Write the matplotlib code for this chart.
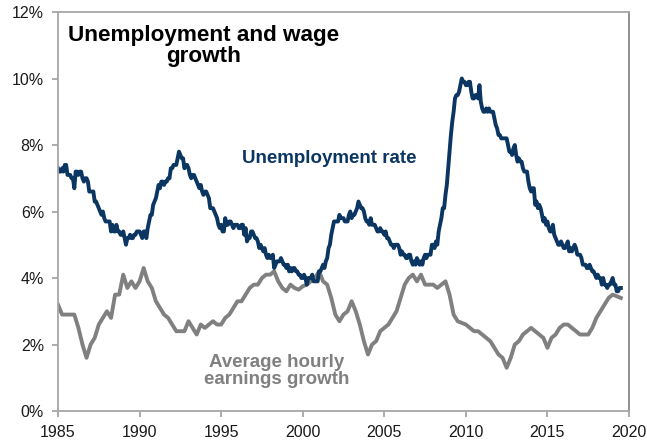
import numpy as np
import matplotlib
matplotlib.use("Agg")
import matplotlib.pyplot as plt
from matplotlib.ticker import FuncFormatter

plt.rcParams['font.family'] = ['Liberation Sans', 'DejaVu Sans']

# monthly unemployment rate (%), Jan 1985 onwards
unemp_by_year = {
    1985: [7.3, 7.2, 7.2, 7.3, 7.2, 7.4, 7.4, 7.1, 7.1, 7.1, 7.0, 7.0],
    1986: [6.7, 7.2, 7.2, 7.1, 7.2, 7.2, 7.0, 6.9, 7.0, 7.0, 6.9, 6.6],
    1987: [6.6, 6.6, 6.6, 6.3, 6.3, 6.2, 6.1, 6.0, 5.9, 6.0, 5.8, 5.7],
    1988: [5.7, 5.7, 5.7, 5.4, 5.6, 5.4, 5.4, 5.6, 5.4, 5.4, 5.3, 5.3],
    1989: [5.4, 5.2, 5.0, 5.2, 5.2, 5.3, 5.2, 5.2, 5.3, 5.3, 5.4, 5.4],
    1990: [5.4, 5.3, 5.2, 5.4, 5.4, 5.2, 5.5, 5.7, 5.9, 5.9, 6.2, 6.3],
    1991: [6.4, 6.6, 6.8, 6.7, 6.9, 6.9, 6.8, 6.9, 6.9, 7.0, 7.0, 7.3],
    1992: [7.3, 7.4, 7.4, 7.4, 7.6, 7.8, 7.7, 7.6, 7.6, 7.3, 7.4, 7.4],
    1993: [7.3, 7.1, 7.0, 7.1, 7.1, 7.0, 6.9, 6.8, 6.7, 6.8, 6.6, 6.5],
    1994: [6.6, 6.6, 6.5, 6.4, 6.1, 6.1, 6.1, 6.0, 5.9, 5.8, 5.6, 5.5],
    1995: [5.6, 5.4, 5.4, 5.8, 5.6, 5.6, 5.7, 5.7, 5.6, 5.5, 5.6, 5.6],
    1996: [5.6, 5.5, 5.5, 5.6, 5.6, 5.3, 5.5, 5.1, 5.2, 5.2, 5.4, 5.4],
    1997: [5.3, 5.2, 5.2, 5.1, 4.9, 5.0, 4.9, 4.8, 4.9, 4.7, 4.6, 4.7],
    1998: [4.6, 4.6, 4.7, 4.3, 4.4, 4.5, 4.5, 4.5, 4.6, 4.5, 4.4, 4.4],
    1999: [4.3, 4.4, 4.2, 4.3, 4.2, 4.3, 4.3, 4.2, 4.2, 4.1, 4.1, 4.0],
    2000: [4.0, 4.1, 4.0, 3.8, 4.0, 4.0, 4.0, 4.1, 3.9, 3.9, 3.9, 3.9],
    2001: [4.2, 4.2, 4.3, 4.4, 4.3, 4.5, 4.6, 4.9, 5.0, 5.3, 5.5, 5.7],
    2002: [5.7, 5.7, 5.7, 5.9, 5.8, 5.8, 5.8, 5.7, 5.7, 5.7, 5.9, 6.0],
    2003: [5.8, 5.9, 5.9, 6.0, 6.1, 6.3, 6.2, 6.1, 6.1, 6.0, 5.8, 5.7],
    2004: [5.7, 5.6, 5.8, 5.6, 5.6, 5.6, 5.5, 5.4, 5.4, 5.5, 5.4, 5.4],
    2005: [5.3, 5.4, 5.2, 5.2, 5.1, 5.0, 5.0, 4.9, 5.0, 5.0, 5.0, 4.9],
    2006: [4.7, 4.8, 4.7, 4.7, 4.6, 4.6, 4.7, 4.7, 4.5, 4.4, 4.5, 4.4],
    2007: [4.6, 4.5, 4.4, 4.5, 4.4, 4.6, 4.7, 4.6, 4.7, 4.7, 4.7, 5.0],
    2008: [5.0, 4.9, 5.1, 5.0, 5.4, 5.6, 5.8, 6.1, 6.1, 6.5, 6.8, 7.3],
    2009: [7.8, 8.3, 8.7, 9.0, 9.4, 9.5, 9.5, 9.6, 9.8, 10.0, 9.9, 9.9],
    2010: [9.8, 9.8, 9.9, 9.9, 9.6, 9.4, 9.4, 9.5, 9.5, 9.4, 9.8, 9.3],
    2011: [9.1, 9.0, 9.0, 9.1, 9.0, 9.1, 9.0, 9.0, 9.0, 8.8, 8.6, 8.5],
    2012: [8.3, 8.3, 8.2, 8.2, 8.2, 8.2, 8.2, 8.0, 7.8, 7.8, 7.7, 7.9],
    2013: [8.0, 7.7, 7.5, 7.6, 7.5, 7.5, 7.3, 7.2, 7.2, 7.2, 6.9, 6.7],
    2014: [6.6, 6.7, 6.7, 6.2, 6.3, 6.1, 6.2, 6.1, 5.9, 5.7, 5.8, 5.6],
    2015: [5.7, 5.5, 5.4, 5.4, 5.6, 5.3, 5.2, 5.1, 5.0, 5.0, 5.1, 5.0],
    2016: [4.9, 4.9, 5.0, 5.1, 4.8, 4.9, 4.8, 4.9, 5.0, 4.9, 4.7, 4.7],
    2017: [4.7, 4.6, 4.4, 4.4, 4.4, 4.3, 4.3, 4.4, 4.3, 4.2, 4.2, 4.1],
    2018: [4.0, 4.1, 4.0, 4.0, 3.8, 4.0, 3.8, 3.8, 3.7, 3.8, 3.8, 3.9],
    2019: [4.0, 3.8, 3.8, 3.6, 3.6, 3.7, 3.7],
}

# quarterly average hourly earnings growth (% y/y), Q1 1985 onwards
wages_by_year = {
    1985: [3.2, 2.9, 2.9, 2.9],
    1986: [2.9, 2.5, 2.0, 1.6],
    1987: [2.0, 2.2, 2.6, 2.8],
    1988: [3.0, 2.8, 3.5, 3.5],
    1989: [4.1, 3.7, 3.9, 3.7],
    1990: [3.9, 4.3, 3.9, 3.7],
    1991: [3.3, 3.1, 2.9, 2.8],
    1992: [2.6, 2.4, 2.4, 2.4],
    1993: [2.7, 2.5, 2.3, 2.6],
    1994: [2.5, 2.6, 2.7, 2.6],
    1995: [2.6, 2.8, 2.9, 3.1],
    1996: [3.3, 3.3, 3.5, 3.7],
    1997: [3.8, 3.8, 4.0, 4.1],
    1998: [4.1, 4.2, 3.9, 3.7],
    1999: [3.6, 3.8, 3.7, 3.65],
    2000: [3.75, 3.8, 3.9, 4.0],
    2001: [4.2, 3.9, 3.8, 3.4],
    2002: [2.9, 2.7, 2.9, 3.0],
    2003: [3.3, 3.0, 2.6, 2.1],
    2004: [1.7, 2.0, 2.1, 2.4],
    2005: [2.5, 2.6, 2.8, 3.0],
    2006: [3.4, 3.8, 4.0, 4.1],
    2007: [3.9, 4.1, 3.8, 3.8],
    2008: [3.8, 3.7, 3.8, 3.9],
    2009: [3.5, 2.9, 2.7, 2.65],
    2010: [2.6, 2.5, 2.4, 2.4],
    2011: [2.3, 2.2, 2.1, 1.9],
    2012: [1.7, 1.6, 1.3, 1.6],
    2013: [2.0, 2.1, 2.3, 2.4],
    2014: [2.5, 2.4, 2.3, 2.2],
    2015: [1.9, 2.2, 2.3, 2.5],
    2016: [2.6, 2.6, 2.5, 2.4],
    2017: [2.3, 2.3, 2.3, 2.5],
    2018: [2.8, 3.0, 3.2, 3.4],
    2019: [3.5, 3.45, 3.4],
}

unemp_t, unemp = [], []
for yr, vals in unemp_by_year.items():
    for m, v in enumerate(vals):
        unemp_t.append(yr + m / 12)
        unemp.append(v)

wage_t, wages = [], []
for yr, vals in wages_by_year.items():
    for q, v in enumerate(vals):
        wage_t.append(yr + q / 4)
        wages.append(v)

navy = '#0B3662'
grey = '#808080'
axis_grey = '#A6A6A6'

fig = plt.figure(figsize=(6.47, 4.40), dpi=100)
ax = fig.add_axes([58 / 647, 1 - 411 / 440, (629 - 58) / 647, (411 - 12) / 440])

ax.plot(wage_t, wages, color=grey, lw=2.8, solid_joinstyle='round')
ax.plot(unemp_t, unemp, color=navy, lw=2.8, solid_joinstyle='round')

ax.set_xlim(1985, 2020)
ax.set_ylim(0, 12)
ax.set_xticks(range(1985, 2021, 5))
ax.set_yticks(range(0, 13, 2))
ax.yaxis.set_major_formatter(FuncFormatter(lambda v, p: f"{v:.0f}%"))

for s in ax.spines.values():
    s.set_color(axis_grey)
    s.set_linewidth(1.3)
ax.spines['right'].set_color('#888888')
ax.tick_params(direction='out', length=4, width=1.3, color=axis_grey,
               labelsize=11.5, labelcolor='#1a1a1a')
ax.tick_params(axis='x', pad=6)
ax.tick_params(axis='y', pad=6)

ax.text(1993.9, 11.62, "Unemployment and wage\ngrowth",
        ha='center', va='top', ma='center', fontsize=16.2, fontweight='bold',
        color='black', linespacing=1.05)
ax.text(2001.6, 7.6, "Unemployment rate", ha='center', va='center',
        fontsize=13.5, fontweight='bold', color=navy)
ax.text(1998.4, 1.2, "Average hourly\nearnings growth", ha='center', va='center',
        ma='center', fontsize=13.5, fontweight='bold', color=grey, linespacing=1.05)

fig.savefig("out.png", dpi=100)
